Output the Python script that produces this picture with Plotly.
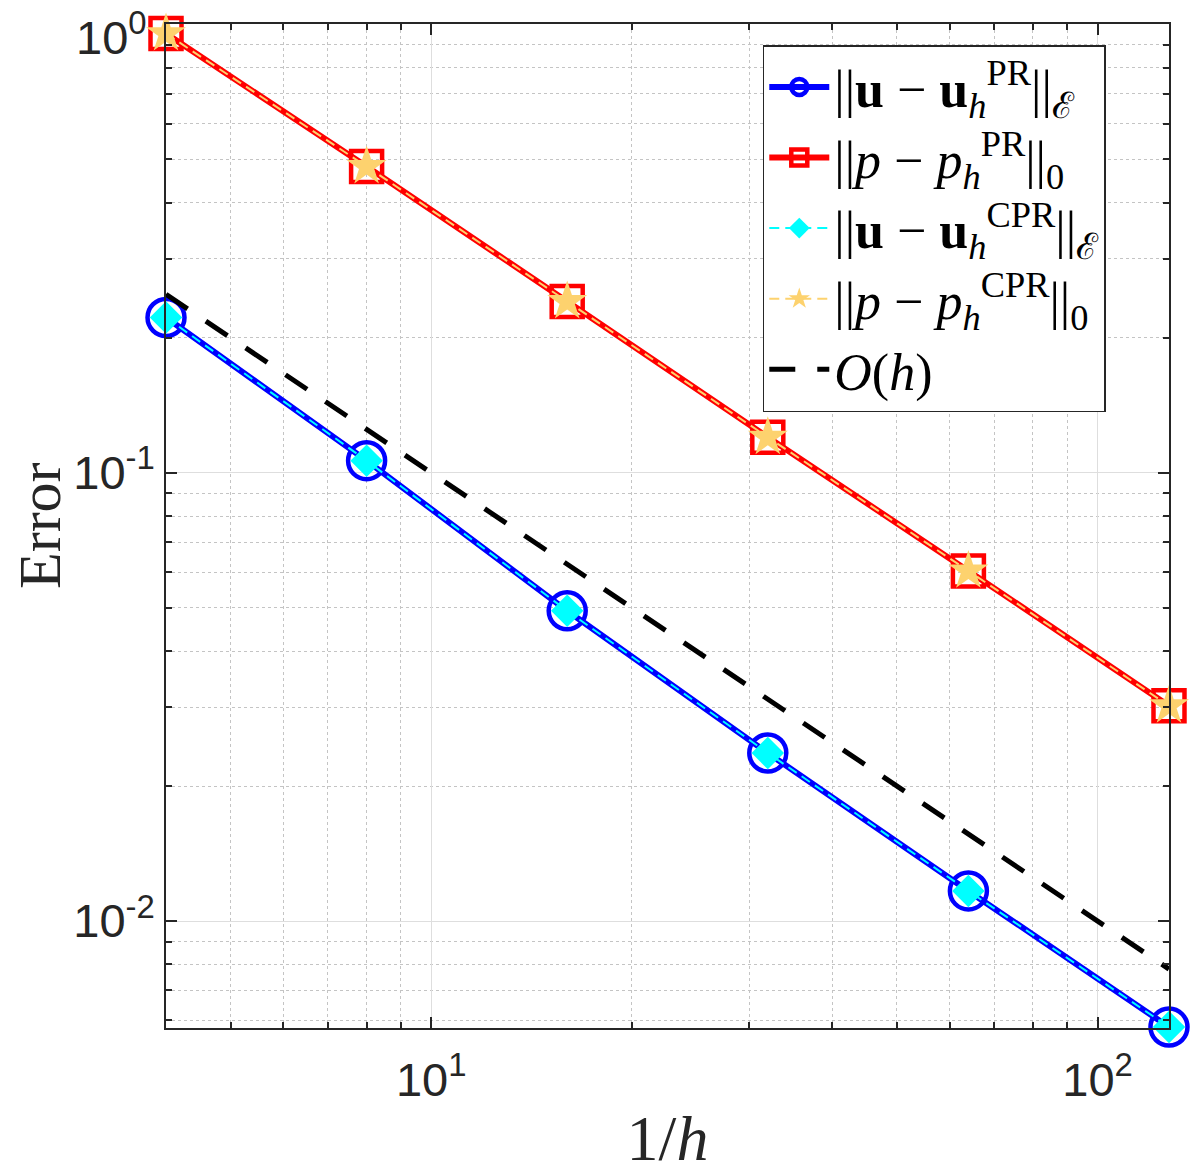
import math
import plotly.graph_objects as go

inv_h = [4, 8, 16, 32, 64, 128]
err_u_pr = [0.222, 0.1064, 0.0492, 0.0237, 0.01167, 0.0058]
err_p_pr = [0.954, 0.482, 0.241, 0.120, 0.0604, 0.0302]
err_u_cpr = [0.222, 0.1064, 0.0492, 0.0237, 0.01167, 0.0058]
err_p_cpr = [0.954, 0.482, 0.241, 0.120, 0.0604, 0.0302]
ref_oh = [0.25, 0.125, 0.0625, 0.03125, 0.015625, 0.0078125]

x_ticks = [10, 100]
x_ticktext = ["10<sup>1</sup>", "10<sup>2</sup>"]
x_minor = [5, 6, 7, 8, 9, 20, 30, 40, 50, 60, 70, 80, 90]
y_ticks = [0.01, 0.1, 1]
y_ticktext = ["10<sup>-2</sup>", "10<sup>-1</sup>", "10<sup>0</sup>"]
y_minor = [0.006, 0.007, 0.008, 0.009, 0.02, 0.03, 0.04, 0.05, 0.06, 0.07,
           0.08, 0.09, 0.2, 0.3, 0.4, 0.5, 0.6, 0.7, 0.8, 0.9]

names = [
    "||<b>u</b> − <b>u</b><sub><i>h</i></sub><sup>PR</sup>||<sub>ℰ</sub>",
    "||<i>p</i> − <i>p</i><sub><i>h</i></sub><sup>PR</sup>||<sub>0</sub>",
    "||<b>u</b> − <b>u</b><sub><i>h</i></sub><sup>CPR</sup>||<sub>ℰ</sub>",
    "||<i>p</i> − <i>p</i><sub><i>h</i></sub><sup>CPR</sup>||<sub>0</sub>",
    "<i>O</i>(<i>h</i>)",
]

BLUE = "#0000ff"
RED = "#ff0000"
CYAN = "#00ffff"
GOLD = "#fdd26e"
AX = "#262626"
SERIF = "Liberation Serif, DejaVu Serif"
TICKFONT = dict(family="Liberation Sans, Arial", size=47, color=AX)

fig = go.Figure()

fig.add_trace(go.Scatter(
    x=inv_h, y=err_u_pr, mode="lines+markers", name=names[0], cliponaxis=False,
    line=dict(color=BLUE, width=6),
    marker=dict(symbol="circle-open", size=37, color=BLUE, line=dict(width=4.5)),
))
fig.add_trace(go.Scatter(
    x=inv_h, y=err_p_pr, mode="lines+markers", name=names[1], cliponaxis=False,
    line=dict(color=RED, width=6),
    marker=dict(symbol="square-open", size=31, color=RED, line=dict(width=4.5)),
))
fig.add_trace(go.Scatter(
    x=inv_h, y=err_u_cpr, mode="lines+markers", name=names[2], cliponaxis=False,
    line=dict(color=CYAN, width=2, dash="10px,6px"),
    marker=dict(symbol="diamond", size=25, color=CYAN),
))
fig.add_trace(go.Scatter(
    x=inv_h, y=err_p_cpr, mode="lines+markers", name=names[3], cliponaxis=False,
    line=dict(color=GOLD, width=2, dash="10px,6px"),
    marker=dict(symbol="star", size=30, color=GOLD),
))
fig.add_trace(go.Scatter(
    x=inv_h, y=ref_oh, mode="lines", name=names[4],
    line=dict(color="black", width=5, dash="26px,22px"),
))

axis_common = dict(
    type="log", automargin=False,
    showline=True, linecolor=AX, linewidth=1.5, mirror="ticks",
    ticks="inside", ticklen=11, tickwidth=1.5, tickcolor=AX,
    showgrid=True, gridcolor="#dedede", gridwidth=1.2,
    zeroline=False,
    tickfont=TICKFONT,
)
minor_common = dict(ticks="inside", ticklen=6, tickcolor=AX, tickwidth=1.5,
                    showgrid=True, gridcolor="#c4c4c4", griddash="dot",
                    gridwidth=1.2)

fig.update_xaxes(
    **axis_common,
    range=[0.60205, 2.10722],
    tickvals=x_ticks, ticktext=x_ticktext,
    ticklabelstandoff=10,
    minor=dict(tickvals=x_minor, **minor_common),
    title=dict(text="1/<i>h</i>", standoff=10,
               font=dict(family=SERIF, size=64, color=AX)),
)
# the top label (10^0) sits a bit below its tick, as in MATLAB, so it is an annotation
fig.update_yaxes(
    **axis_common,
    range=[-2.2387, 0.001],
    tickvals=y_ticks, ticktext=y_ticktext[:-1] + [""],
    minor=dict(tickvals=y_minor, **minor_common),
)
fig.add_annotation(
    text=y_ticktext[-1], xref="paper", x=0, y=math.log10(y_ticks[-1]),
    xanchor="right", yanchor="middle", xshift=-17, yshift=-10,
    showarrow=False, font=TICKFONT,
)
fig.add_annotation(
    text="Error", xref="paper", yref="paper", x=0, y=0.5,
    xanchor="center", yanchor="middle", xshift=-126, textangle=-90,
    showarrow=False, font=dict(family=SERIF, size=60, color=AX),
)

fig.update_layout(
    width=1195, height=1174,
    margin=dict(l=166, r=26, t=24, b=146),
    plot_bgcolor="white", paper_bgcolor="white",
    showlegend=True,
    legend=dict(
        x=0.595, y=0.979, xanchor="left", yanchor="top",
        bgcolor="white", bordercolor=AX, borderwidth=1.5,
        font=dict(family=SERIF, size=52, color="black"),
        itemwidth=60, tracegroupgap=0,
    ),
)

fig.write_html("out.html", config={"displayModeBar": False},
               post_script="document.body.style.margin = '0';")
